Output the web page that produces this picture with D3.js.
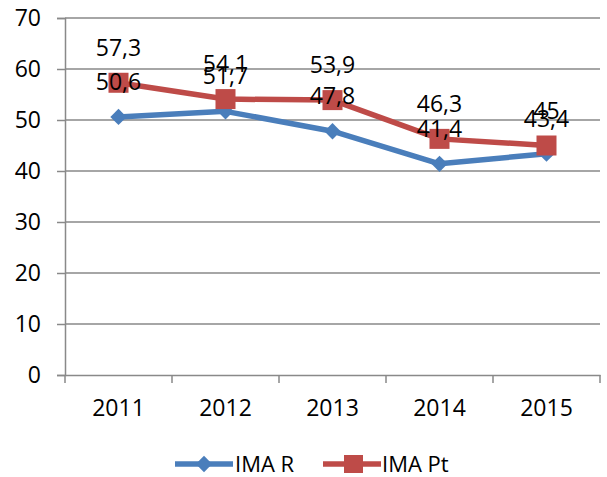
<!DOCTYPE html>
<html>
<head>
<meta charset="utf-8">
<script src="https://cdn.jsdelivr.net/npm/d3@7"></script>
<style>
  body { margin: 0; background: #fff; }
  text { font-family: "Open Sans", "Liberation Sans", sans-serif; fill: #000; }
</style>
</head>
<body>
<svg id="chart" width="607" height="477"></svg>
<script>
const years = ['2011', '2012', '2013', '2014', '2015'];
const imaR = [50.6, 51.7, 47.8, 41.4, 43.4];
const imaPt = [57.3, 54.1, 53.9, 46.3, 45];
const yTicks = [0, 10, 20, 30, 40, 50, 60, 70];

const width = 607;
const height = 477;
const margin = { top: 18, right: 7, bottom: 102, left: 65 };

const svg = d3.select('#chart');

const x = d3.scaleBand()
  .domain(years)
  .range([margin.left, width - margin.right]);

const y = d3.scaleLinear()
  .domain([0, 70])
  .range([height - margin.bottom, margin.top]);

const gridColor = '#898989';

// gridlines
svg.append('g')
  .selectAll('line')
  .data(yTicks.filter(d => d > 0))
  .enter()
  .append('line')
  .attr('x1', margin.left)
  .attr('x2', width - margin.right)
  .attr('y1', d => y(d))
  .attr('y2', d => y(d))
  .attr('stroke', gridColor)
  .attr('stroke-width', 1.5);

// y axis
const yAxis = svg.append('g')
  .attr('transform', `translate(${margin.left},0)`)
  .call(d3.axisLeft(y).tickValues(yTicks).tickSize(8).tickPadding(16));
yAxis.select('.domain').attr('stroke', gridColor).attr('stroke-width', 1.5);
yAxis.selectAll('line').attr('stroke', gridColor).attr('stroke-width', 1.5);
yAxis.selectAll('text').style('font-size', '23px');

// x axis
const xAxis = svg.append('g')
  .attr('transform', `translate(0,${y(0)})`)
  .call(d3.axisBottom(x).tickSize(0).tickPadding(25));
xAxis.select('.domain').attr('stroke', gridColor).attr('stroke-width', 1.5);
xAxis.selectAll('text').style('font-size', '23px');

// x ticks between categories
svg.append('g')
  .selectAll('line')
  .data(years.concat(['end']))
  .enter()
  .append('line')
  .attr('x1', (d, i) => margin.left + i * x.bandwidth())
  .attr('x2', (d, i) => margin.left + i * x.bandwidth())
  .attr('y1', y(0))
  .attr('y2', y(0) + 8)
  .attr('stroke', gridColor)
  .attr('stroke-width', 1.5);

const cx = d => x(d) + x.bandwidth() / 2;

const line = d3.line()
  .x((d, i) => cx(years[i]))
  .y(d => y(d));

const blue = '#4A7EBB';
const red = '#BE4B48';

// IMA R
svg.append('path')
  .datum(imaR)
  .attr('d', line)
  .attr('fill', 'none')
  .attr('stroke', blue)
  .attr('stroke-width', 5.5)
  .attr('stroke-linejoin', 'round');

svg.append('g')
  .selectAll('path')
  .data(imaR)
  .enter()
  .append('path')
  .attr('d', d3.symbol().type(d3.symbolDiamond2).size(170))
  .attr('transform', (d, i) => `translate(${cx(years[i])},${y(d)})`)
  .attr('fill', blue);

// IMA Pt
svg.append('path')
  .datum(imaPt)
  .attr('d', line)
  .attr('fill', 'none')
  .attr('stroke', red)
  .attr('stroke-width', 5.5)
  .attr('stroke-linejoin', 'round');

svg.append('g')
  .selectAll('rect')
  .data(imaPt)
  .enter()
  .append('rect')
  .attr('x', (d, i) => cx(years[i]) - 10)
  .attr('y', d => y(d) - 10)
  .attr('width', 20)
  .attr('height', 20)
  .attr('fill', red);

// data labels
const fmt = v => String(v).replace('.', ',');

svg.append('g')
  .selectAll('text')
  .data(imaR)
  .enter()
  .append('text')
  .attr('x', (d, i) => cx(years[i]))
  .attr('y', d => y(d) - 27)
  .attr('text-anchor', 'middle')
  .style('font-size', '23px')
  .text(fmt);

svg.append('g')
  .selectAll('text')
  .data(imaPt)
  .enter()
  .append('text')
  .attr('x', (d, i) => cx(years[i]))
  .attr('y', d => y(d) - 27)
  .attr('text-anchor', 'middle')
  .style('font-size', '23px')
  .text(fmt);

// legend
const legend = svg.append('g').attr('transform', 'translate(0,464)');

legend.append('line')
  .attr('x1', 175).attr('x2', 233).attr('y1', 0).attr('y2', 0)
  .attr('stroke', blue).attr('stroke-width', 5.5);
legend.append('path')
  .attr('d', d3.symbol().type(d3.symbolDiamond2).size(170))
  .attr('transform', 'translate(204,0)')
  .attr('fill', blue);
legend.append('text')
  .attr('x', 235).attr('y', 8)
  .style('font-size', '22px')
  .text('IMA R');

legend.append('line')
  .attr('x1', 323).attr('x2', 381).attr('y1', 0).attr('y2', 0)
  .attr('stroke', red).attr('stroke-width', 5.5);
legend.append('rect')
  .attr('x', 344).attr('y', -9).attr('width', 19).attr('height', 18)
  .attr('fill', red);
legend.append('text')
  .attr('x', 382).attr('y', 8)
  .style('font-size', '22px')
  .text('IMA Pt');
</script>
</body>
</html>
